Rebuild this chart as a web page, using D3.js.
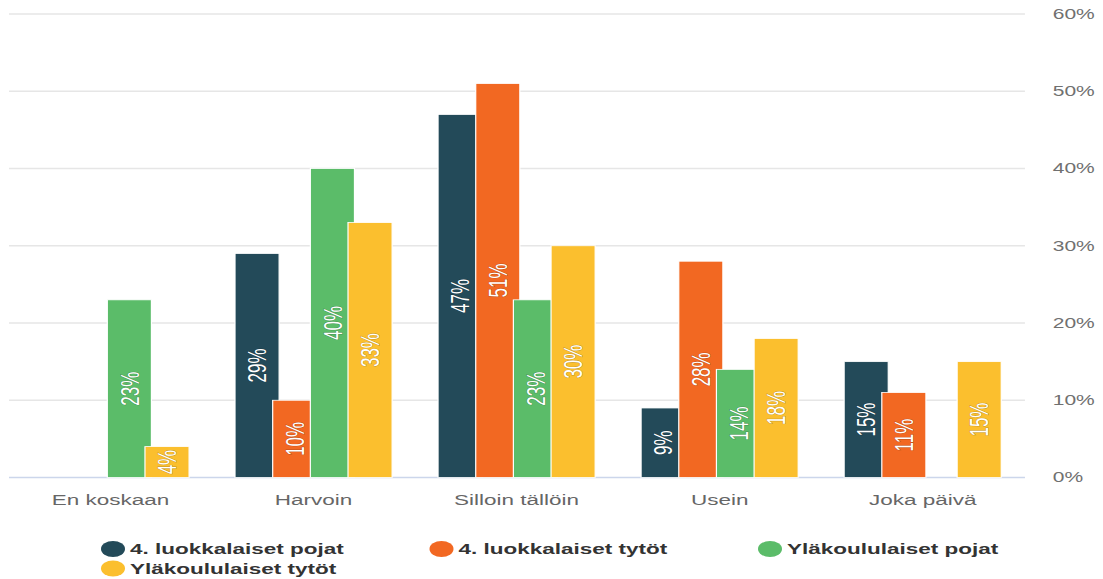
<!DOCTYPE html>
<html lang='fi'>
    <head>
        <meta charset='UTF-8'>
        <title>Pylväskaavio</title>
        <script src="https://d3js.org/d3.v7.min.js"></script>
        <style>
            body {
                margin: 0;
                background: white;
                font-family: 'Liberation Sans', Arial, sans-serif;
            }
            svg {
                display: block;
            }
        </style>
    </head>
    <body>
        <svg id='chart' width='1103' height='579' viewBox='0 0 735 579' preserveAspectRatio='none'></svg>
        <script>
            // data
            let categories = ['En koskaan', 'Harvoin', 'Silloin tällöin', 'Usein', 'Joka päivä']
            let seriesNames = ['4. luokkalaiset pojat', '4. luokkalaiset tytöt', 'Yläkoululaiset pojat', 'Yläkoululaiset tytöt']
            let pojat4 = [null, 29, 47, 9, 15]
            let tytot4 = [null, 10, 51, 28, 11]
            let ylaPojat = [23, 40, 23, 14, null]
            let ylaTytot = [4, 33, 30, 18, 15]
            let yTicks = [0, 10, 20, 30, 40, 50, 60]
            let colors = ['#234a59', '#f26822', '#5bbc69', '#fbbf2e']

            let seriesValues = [pojat4, tytot4, ylaPojat, ylaTytot]

            let svg = d3.select('#chart')

            // the picture is stretched sideways, so work in a narrower box
            let plot = {left: 6, right: 682.5, top: 14, bottom: 477.5}

            let x0 = d3.scaleBand()
                .domain(categories)
                .range([plot.left, plot.right])

            let step = 25.1
            let barWidth = 29.4
            let x1 = d3.scaleBand()
                .domain(seriesNames)
                .range([0, step * seriesNames.length])

            let y = d3.scaleLinear()
                .domain([0, 60])
                .range([plot.bottom, plot.top])

            // grid
            svg.append('g')
                .selectAll('line')
                .data(yTicks.filter(d => d > 0))
                .enter()
                .append('line')
                .attr('x1', plot.left)
                .attr('x2', plot.right + 0.5)
                .attr('y1', d => y(d))
                .attr('y2', d => y(d))
                .attr('stroke', '#e6e6e6')
                .attr('stroke-width', 1.3)

            svg.append('line')
                .attr('x1', plot.left)
                .attr('x2', plot.right + 0.5)
                .attr('y1', y(0))
                .attr('y2', y(0))
                .attr('stroke', '#ccd6eb')
                .attr('stroke-width', 1.3)

            // right side axis labels
            svg.append('g')
                .selectAll('text')
                .data(yTicks)
                .enter()
                .append('text')
                .attr('x', 701.5)
                .attr('y', d => y(d) + 5)
                .attr('fill', '#707070')
                .style('font-size', '14px')
                .text(d => d + '%')

            // bars
            let groupSpan = step * (seriesNames.length - 1) + barWidth
            let bars = []
            seriesValues.forEach((vals, s) => {
                vals.forEach((v, c) => {
                    if (v === null) return
                    bars.push({s: s, cat: categories[c], value: v})
                })
            })
            let barX = d => x0(d.cat) + x0.bandwidth() / 2 - groupSpan / 2 + x1(seriesNames[d.s])

            let barG = svg.append('g')
            barG.selectAll('rect')
                .data(bars)
                .enter()
                .append('rect')
                .attr('x', barX)
                .attr('y', d => y(d.value))
                .attr('width', barWidth)
                .attr('height', d => y(0) - y(d.value))
                .attr('fill', d => colors[d.s])
                .attr('stroke', 'white')
                .attr('stroke-width', 0.8)

            barG.selectAll('text')
                .data(bars)
                .enter()
                .append('text')
                .attr('transform', d => {
                    let cx = barX(d) + barWidth / 2
                    let cy = (y(d.value) + y(0)) / 2
                    return `translate(${cx},${cy}) rotate(-90)`
                })
                .attr('text-anchor', 'middle')
                .attr('dy', '0.36em')
                .attr('fill', 'white')
                .attr('stroke', 'rgba(0,0,0,0.25)')
                .attr('stroke-width', 0.8)
                .style('paint-order', 'stroke')
                .style('font-size', '17px')
                .text(d => d.value + '%')

            // category labels
            svg.append('g')
                .selectAll('text')
                .data(categories)
                .enter()
                .append('text')
                .attr('x', d => x0(d) + x0.bandwidth() / 2)
                .attr('y', 505)
                .attr('text-anchor', 'middle')
                .attr('fill', '#666666')
                .style('font-size', '15px')
                .text(d => d)

            // legend
            let legend = svg.append('g')
                .selectAll('g')
                .data(seriesNames)
                .enter()
                .append('g')
                .attr('transform', (d, i) => `translate(${75.3 + (i % 3) * 218.9},${549 + Math.floor(i / 3) * 19.5})`)
            legend.append('circle')
                .attr('r', 8)
                .attr('fill', (d, i) => colors[i])
            legend.append('text')
                .attr('x', 11.3)
                .attr('dy', '0.35em')
                .attr('fill', '#333333')
                .style('font-size', '15px')
                .style('font-weight', 'bold')
                .text(d => d)
        </script>
    </body>
</html>
